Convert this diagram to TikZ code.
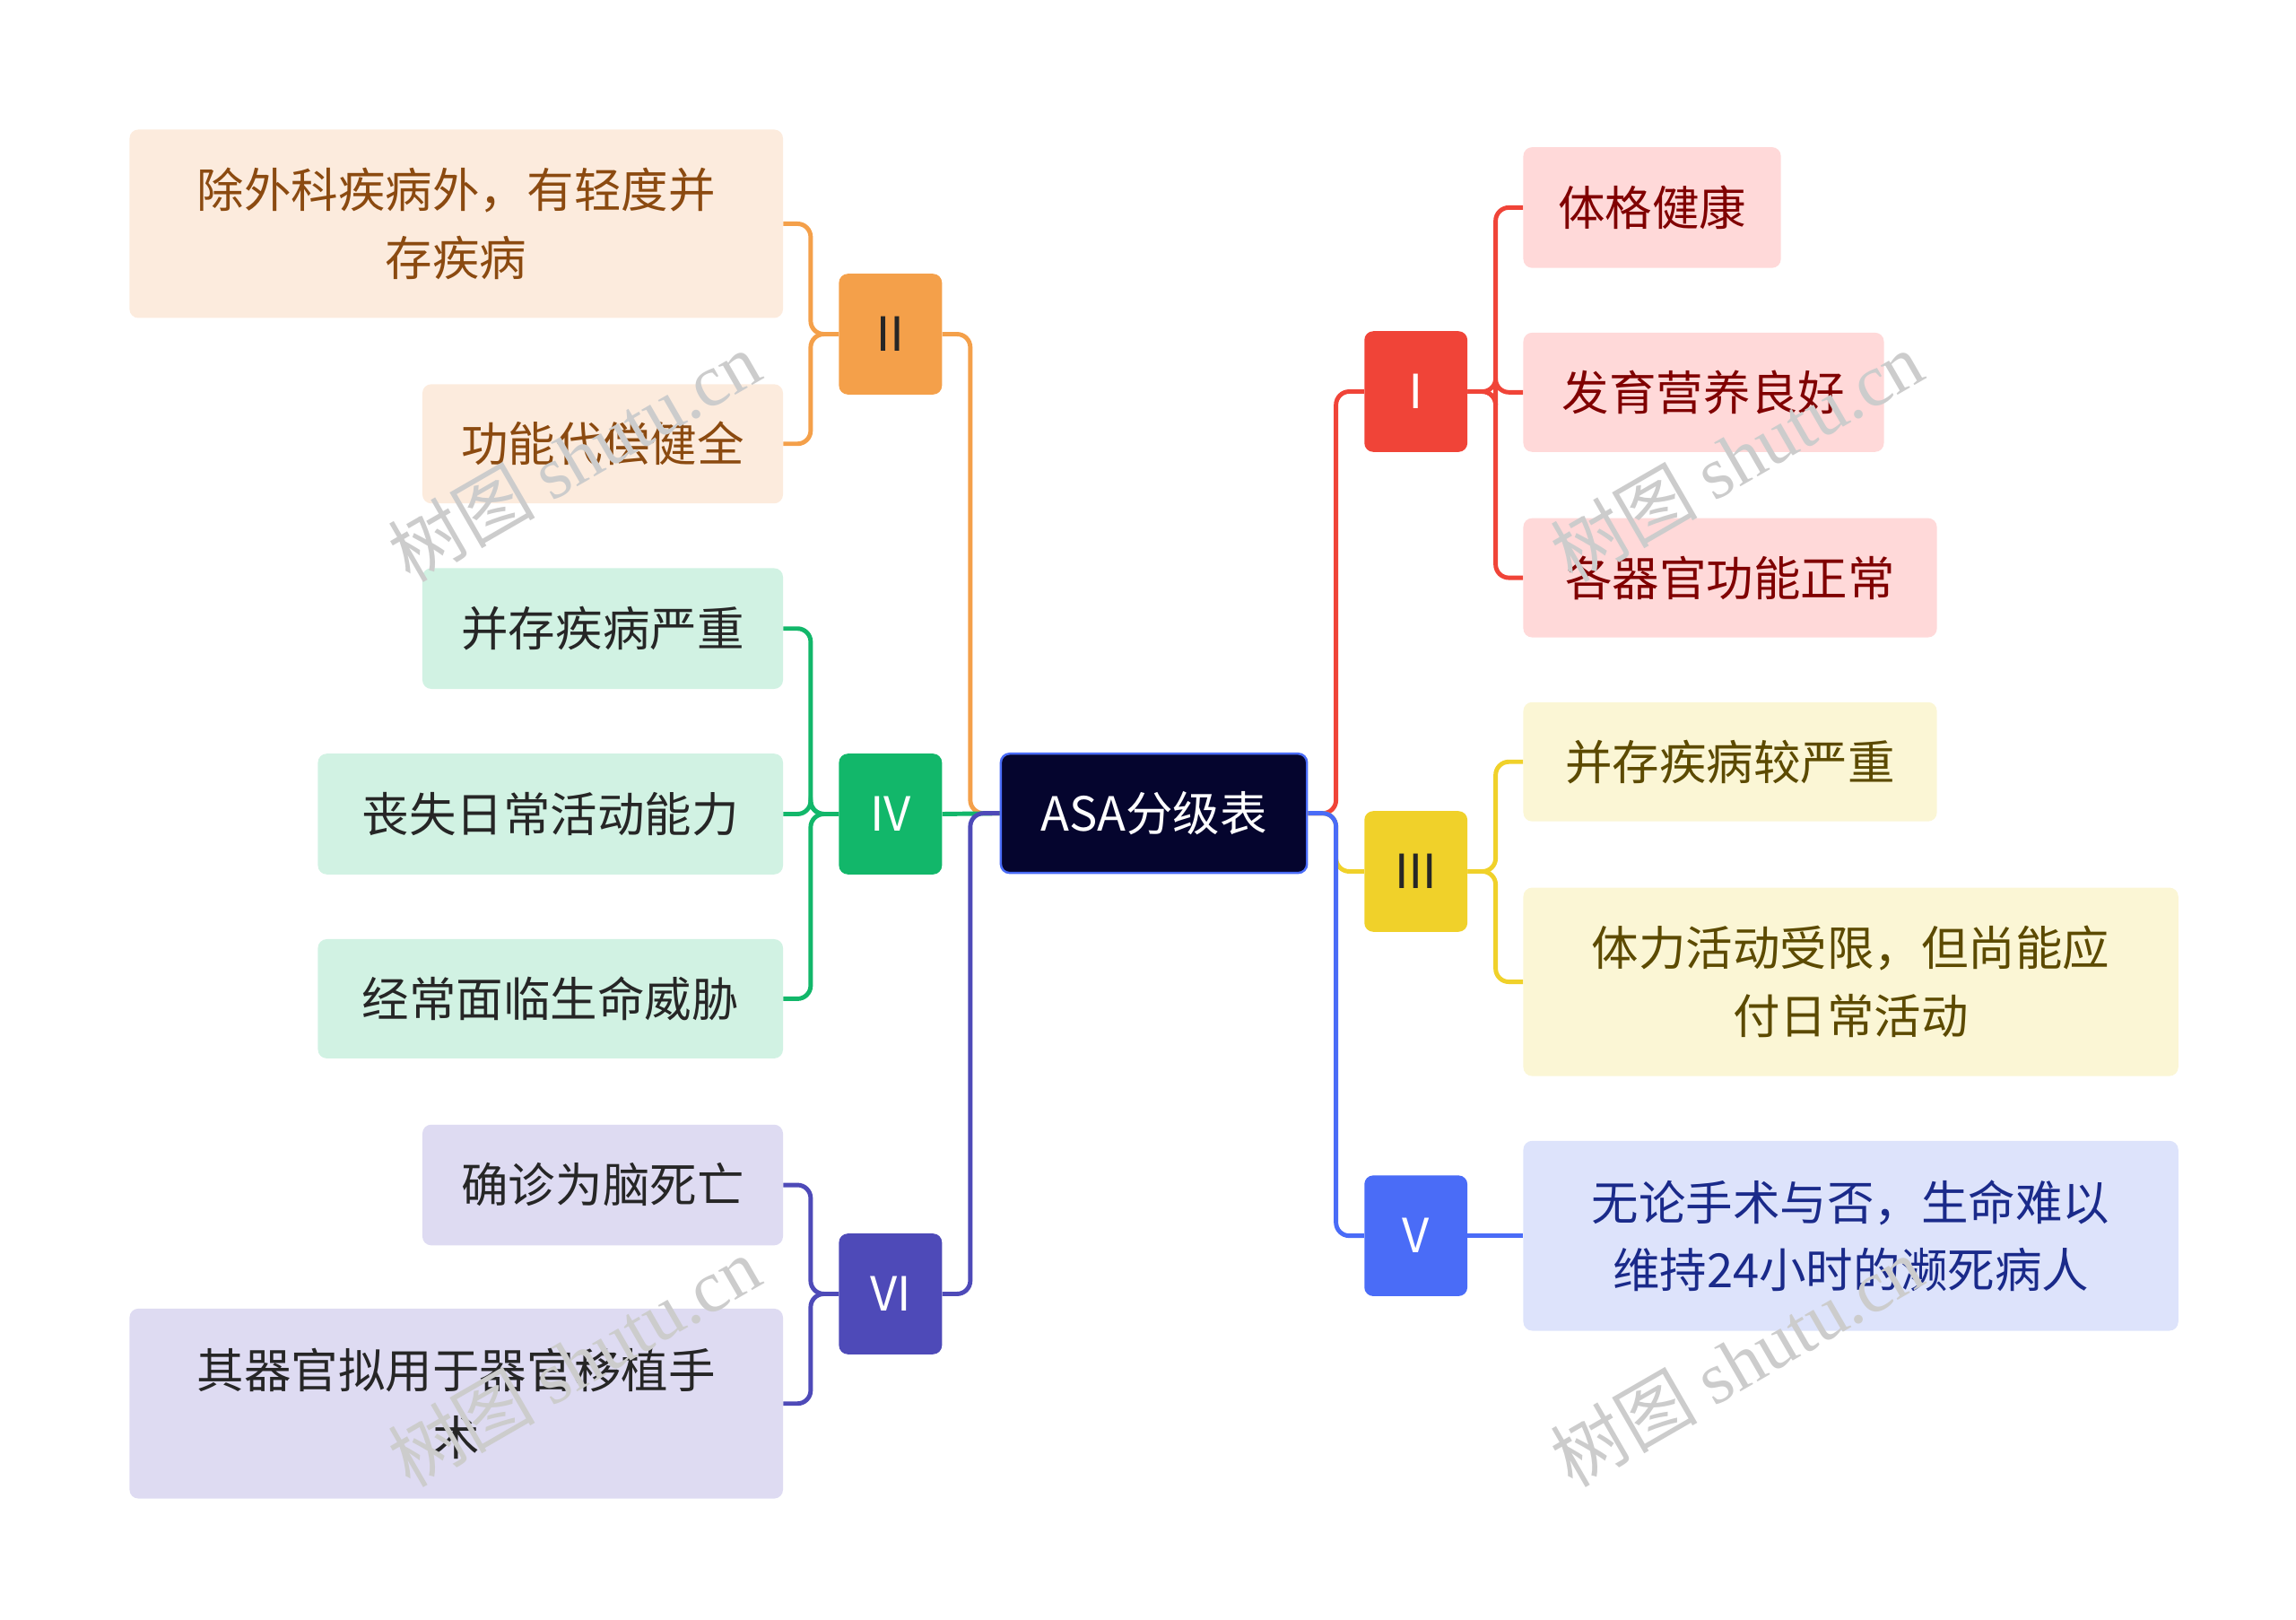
\documentclass[tikz,border=0pt]{standalone}
\usepackage{fontspec}
\setmainfont{Noto Sans CJK SC}
\newfontfamily\wmserif{Liberation Serif}
\begin{document}
\begin{tikzpicture}[x=1pt,y=-1pt,
 bx/.style={rounded corners=6pt,inner sep=0pt,align=center,font=\fontsize{32}{46}\selectfont},
 ln/.style={line width=3pt,rounded corners=9pt}]
\useasboundingbox (0,0) rectangle (1560,1100);
\definecolor{cR}{HTML}{F04438}\definecolor{cY}{HTML}{F0D12A}\definecolor{cB}{HTML}{4A6CF7}
\definecolor{cO}{HTML}{F4A04A}\definecolor{cG}{HTML}{12B76A}\definecolor{cP}{HTML}{4E4AB8}
\definecolor{cC}{HTML}{05052E}
\newcommand{\bnode}[8]{\node[bx,fill=#6,text=#7,minimum width=#4,minimum height=#5] (#1) at (#2,#3) {#8};}
% center
\node[bx,fill=cC,draw=cB,line width=1.5pt,text=white,minimum width=208,minimum height=81] (c) at (784,552.5) {ASA分级表};
% level 1
\bnode{r1}{962}{266}{70}{82}{cR}{white}{Ⅰ}
\bnode{r3}{962}{592}{70}{82}{cY}{black!85}{Ⅲ}
\bnode{r5}{962}{839.5}{70}{82}{cB}{white}{V}
\bnode{l2}{605}{227}{70}{82}{cO}{black!85}{Ⅱ}
\bnode{l4}{605}{553}{70}{82}{cG}{white}{IV}
\bnode{l6}{605}{879}{70}{82}{cP}{white}{VI}
% children
\colorlet{fR}{red!15}
\bnode{a1}{1122.5}{141}{175}{82}{fR}{red!50!black}{体格健康}
\bnode{a2}{1157.5}{266.5}{245}{81}{fR}{red!50!black}{发育营养良好}
\bnode{a3}{1175.5}{392.5}{281}{81}{fR}{red!50!black}{各器官功能正常}
\definecolor{fY}{HTML}{FBF6D5}\definecolor{tY}{HTML}{5C4A00}
\bnode{b1}{1175.5}{517.5}{281}{81}{fY}{tY}{并存疾病较严重}
\bnode{b2}{1257.5}{667}{445}{128}{fY}{tY}{体力活动受限，但尚能应\\付日常活动}
\definecolor{fB}{HTML}{DDE3FB}\definecolor{tB}{HTML}{1A2A8A}
\bnode{e1}{1257.5}{839.5}{445}{129}{fB}{tB}{无论手术与否，生命难以\\维持24小时的濒死病人}
\definecolor{fO}{HTML}{FCEBDD}\definecolor{tO}{HTML}{8B4A10}
\bnode{d1}{310}{152}{444}{128}{fO}{tO}{除外科疾病外，有轻度并\\存疾病}
\bnode{d2}{409.5}{301.5}{245}{81}{fO}{tO}{功能代偿健全}
\definecolor{fG}{HTML}{D1F2E3}
\bnode{g1}{409.5}{427}{245}{82}{fG}{black!85}{并存疾病严重}
\bnode{g2}{374}{553}{316}{82}{fG}{black!85}{丧失日常活动能力}
\bnode{g3}{374}{678.5}{316}{81}{fG}{black!85}{经常面临生命威胁}
\definecolor{fP}{HTML}{DEDBF2}
\bnode{p1}{409.5}{805}{245}{82}{fP}{black!85}{确诊为脑死亡}
\bnode{p2}{310}{953.5}{444}{129}{fP}{black!85}{其器官拟用于器官移植手\\术}
% connectors
\draw[ln,cR] (c.east) -- ++(19,0) |- (r1.west);
\draw[ln,cY] (c.east) -- ++(19,0) |- (r3.west);
\draw[ln,cB] (c.east) -- ++(19,0) |- (r5.west);
\draw[ln,cO] (c.west) -- ++(-20,0) |- (l2.east);
\draw[ln,cG] (c.west) -- (l4.east);
\draw[ln,cP] (c.west) -- ++(-20,0) |- (l6.east);
\foreach \t in {a1,a2,a3}{\draw[ln,cR] (r1.east) -- ++(19,0) |- (\t.west);}
\foreach \t in {b1,b2}{\draw[ln,cY] (r3.east) -- ++(19,0) |- (\t.west);}
\draw[ln,cB] (r5.east) -- (e1.west);
\foreach \t in {d1,d2}{\draw[ln,cO] (l2.west) -- ++(-19,0) |- (\t.east);}
\foreach \t in {g1,g2,g3}{\draw[ln,cG] (l4.west) -- ++(-19,0) |- (\t.east);}
\foreach \t in {p1,p2}{\draw[ln,cP] (l6.west) -- ++(-19,0) |- (\t.east);}
% watermarks
\foreach \x/\y/\n in {390/310/w1,1180/310/w2,390/925/w3,1180/925/w4}{
 \node[text=black!20,rotate=30,font=\fontsize{50}{50}\selectfont] (\n) at (\x,\y) {树图 {\wmserif shutu.cn}};}
\end{tikzpicture}
\end{document}
